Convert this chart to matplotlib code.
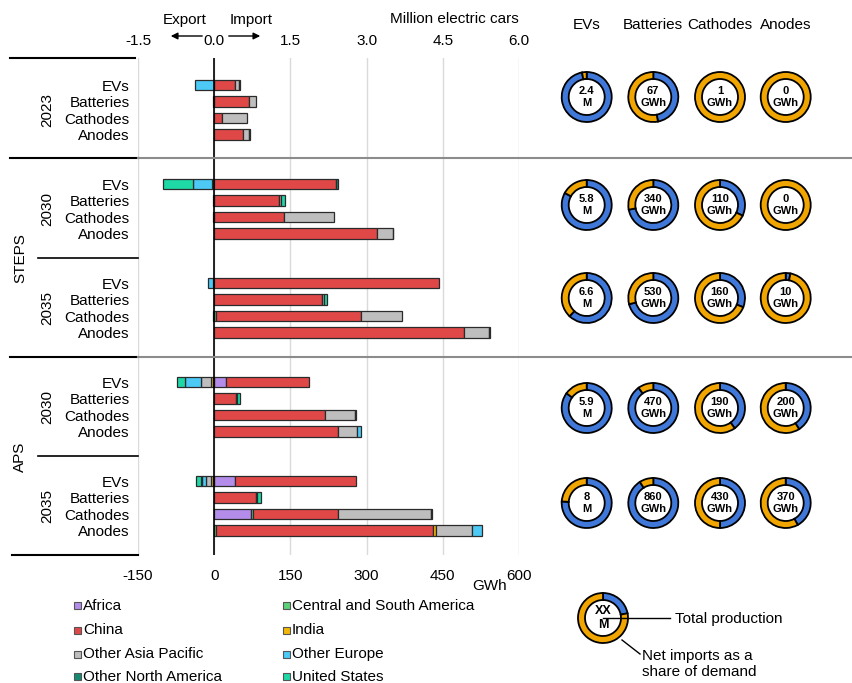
import numpy as np
import matplotlib.pyplot as plt
from matplotlib.lines import Line2D
from matplotlib.patches import Rectangle, FancyArrowPatch
from matplotlib.transforms import blended_transform_factory

plt.rcParams['font.family'] = ['Liberation Sans', 'DejaVu Sans']

W, H = 853, 683
FS = 11

items = ["EVs", "Batteries", "Cathodes", "Anodes"]
years = ["2023", "2030", "2035", "2030", "2035"]
scenarios = ["STEPS", "APS"]

# rows: 2023, STEPS 2030, STEPS 2035, APS 2030, APS 2035 (EVs, Batteries, Cathodes, Anodes)
# EV rows in million cars, other rows in GWh
regions = ["Africa", "Central and South America", "China", "India",
           "Other Asia Pacific", "Other Europe", "Other North America", "United States"]
africa = [0, 0, 0, 0,  0, 0, 0, 0,  0, 0, 0, 0,  0.24, 0, 0, 0,  0.40, 0, 72, 0]
csa = [0, 0, 0, 0,  -0.04, 0, 0, 0,  -0.03, 0, 3, 0,  -0.03, 0, 0, 0,  -0.03, 0, 5, 3]
china = [0.41, 69, 16, 57,  2.39, 127, 138, 320,  4.42, 213, 286, 492,  1.62, 42, 218, 244,  2.39, 82, 166, 427]
india = [0, 0, 0, 0,  0, 0, 0, 0,  0, 0, 0, 0,  -0.03, 0, 0, 0,  -0.03, 0, 0, 7]
other_ap = [0.08, 13, 49, 12,  0, 4, 97, 31,  0, 3, 80, 48,  -0.19, 0, 59, 38,  -0.10, 0, 183, 70]
other_eu = [-0.38, 0, 0, 0,  -0.38, -2, 0, 0,  -0.09, 0, 0, 0,  -0.33, 0, 0, 6,  -0.08, 0, 0, 21]
other_na = [0.02, -2, 0, 2,  0.05, 1, -2, 1,  0, 1, -2, 2,  0, 3, 3, 0,  -0.02, 3, 2, 0]
usa = [0, 0, 0, 0,  -0.59, 8, 0, 0,  0, 5, 0, 0,  -0.16, 6, 0, 0,  -0.10, 8, 0, 0]
region_vals = [africa, csa, china, india, other_ap, other_eu, other_na, usa]
region_colors = ["#B48DEB", "#5CD17A", "#E04848", "#F2B705",
                 "#BEBEBE", "#4DC9F6", "#148A73", "#1ED8A6"]

# donuts: total production and net imports as share of demand (%)
ev_total = [2.4, 5.8, 6.6, 5.9, 8]
bat_total = [67, 340, 530, 470, 860]
cat_total = [1, 110, 160, 190, 430]
an_total = [0, 0, 10, 200, 370]
ev_share = [97, 83, 62, 85, 76]
bat_share = [47, 72, 71, 90, 91]
cat_share = [0, 32, 31, 40, 50]
an_share = [0, 0, 3, 41, 42]

blue = "#3F78D8"
orange = "#F0A500"

fig = plt.figure(figsize=(W / 100, H / 100), dpi=100)
ax = fig.add_axes([138 / W, 1 - 555 / H, (519 - 138) / W, (555 - 58) / H])

ypos = np.array([6 * g + r for g in range(5) for r in range(4)], dtype=float)
scale = np.array([100 if r == 0 else 1 for g in range(5) for r in range(4)], dtype=float)

pos_left = np.zeros(len(ypos))
neg_left = np.zeros(len(ypos))
for vals, col in zip(region_vals, region_colors):
    v = np.array(vals, dtype=float) * scale
    left = np.where(v >= 0, pos_left, neg_left)
    m = v != 0
    ax.barh(ypos[m], v[m], left=left[m], height=0.62, color=col,
            edgecolor="#2b2b2b", linewidth=0.9, zorder=2)
    pos_left += np.where(v > 0, v, 0)
    neg_left += np.where(v < 0, v, 0)

ax.set_xlim(-150, 600)
ax.set_ylim(28.48, -1.64)
ax.axvline(0, color="black", lw=1.2, zorder=3)
xt = [-150, 0, 150, 300, 450, 600]
ax.set_xticks(xt, [str(t) for t in xt])
ax.grid(axis="x", color="#DADADA", lw=1)
ax.set_axisbelow(True)
ax.tick_params(axis="x", length=0, pad=10, labelsize=FS)
ax.set_yticks(ypos, items * 5)
ax.tick_params(axis="y", length=0, pad=6, labelsize=FS)
for s in ax.spines.values():
    s.set_visible(False)

sec = ax.secondary_xaxis("top", functions=(lambda x: x / 100, lambda x: x * 100))
sec.set_xticks([-1.5, 0, 1.5, 3, 4.5, 6], ["-1.5", "0.0", "1.5", "3.0", "4.5", "6.0"])
sec.tick_params(length=0, pad=7, labelsize=FS)
sec.spines["top"].set_visible(False)

# separators
tr = blended_transform_factory(fig.transFigure, ax.transData)


def hline(x0, x1, y, color="black", lw=1.5):
    fig.add_artist(Line2D([x0 / W, x1 / W], [y, y], transform=tr, color=color, lw=lw))


hline(10, 135, -1.64)
hline(10, 138, 4.4)
hline(138, 853, 4.4, color="#8C8C8C")
hline(38, 138, 10.5, lw=1.2)
hline(10, 138, 16.5)
hline(138, 853, 16.5, color="#8C8C8C")
hline(38, 138, 22.5, lw=1.2)
hline(12, 138, 28.48)

for g, yr in enumerate(years):
    fig.text(47 / W, 6 * g + 1.5, yr, rotation=90, ha="center", va="center",
             fontsize=FS, transform=tr)
for i, sc in enumerate(scenarios):
    fig.text(20 / W, 10.5 + 12 * i, sc, rotation=90, ha="center", va="center",
             fontsize=FS, transform=tr)

# header texts
fig.text(185 / W, 1 - 20 / H, "Export", ha="center", va="center", fontsize=FS)
fig.text(251 / W, 1 - 20 / H, "Import", ha="center", va="center", fontsize=FS)
fig.text(454 / W, 1 - 19 / H, "Million electric cars", ha="center", va="center", fontsize=FS)
fig.text(490 / W, 1 - 586 / H, "GWh", ha="center", va="center", fontsize=FS)
for (x0, x1) in [(205, 168), (226, 263)]:
    fig.add_artist(FancyArrowPatch(
        (x0 / W, 1 - 36 / H), (x1 / W, 1 - 36 / H), transform=fig.transFigure,
        arrowstyle="-|>", mutation_scale=10, color="black", lw=1))

col_x = [586.7, 653.3, 720, 785.7]
row_y = [97, 205, 298, 408, 503]
for x, name in zip(col_x, items):
    fig.text(x / W, 1 - 25 / H, name, ha="center", va="center", fontsize=FS)


def donut(cx, cy, share, label, r=25, fs=8):
    pad = 3
    dax = fig.add_axes([(cx - r - pad) / W, 1 - (cy + r + pad) / H,
                        (2 * r + 2 * pad) / W, (2 * r + 2 * pad) / H])
    dax.pie([share, 100 - share], colors=[blue, orange], startangle=90,
            counterclock=False, radius=1,
            wedgeprops=dict(width=0.28, edgecolor="black", linewidth=1.3))
    lim = (r + pad) / r
    dax.set_xlim(-lim, lim)
    dax.set_ylim(-lim, lim)
    dax.text(0, 0, label, ha="center", va="center", fontsize=fs,
             fontweight="bold", linespacing=1.15)
    dax.axis("off")
    return dax


totals = [ev_total, bat_total, cat_total, an_total]
shares = [ev_share, bat_share, cat_share, an_share]
units = ["M", "GWh", "GWh", "GWh"]
for c in range(4):
    for rr in range(5):
        donut(col_x[c], row_y[rr], shares[c][rr], f"{totals[c][rr]:g}\n{units[c]}")

# legend of regions
leg_x = [78, 287]
leg_y = [605.7, 630, 654.3, 676.7]
order = [[0, 2, 4, 6], [1, 3, 5, 7]]
for ci, col in enumerate(order):
    for ri, k in enumerate(col):
        sq = 7
        fig.add_artist(Rectangle(((leg_x[ci] - sq / 2) / W, 1 - (leg_y[ri] + sq / 2) / H),
                                 sq / W, sq / H, transform=fig.transFigure,
                                 facecolor=region_colors[k], edgecolor="#555555", lw=0.8))
        fig.text((leg_x[ci] + 5) / W, 1 - leg_y[ri] / H, regions[k], ha="left",
                 va="center", fontsize=FS)

# legend donut
donut(603, 618, 22, "XX\nM", fs=9)
fig.add_artist(Line2D([603 / W, 670 / W], [1 - 618 / H, 1 - 618 / H],
                      transform=fig.transFigure, color="black", lw=1))
fig.text(675 / W, 1 - 619 / H, "Total production", ha="left", va="center", fontsize=FS)
fig.add_artist(Line2D([622 / W, 640 / W], [1 - 640 / H, 1 - 654 / H],
                      transform=fig.transFigure, color="black", lw=1))
fig.text(642 / W, 1 - 664 / H, "Net imports as a\nshare of demand", ha="left",
         va="center", fontsize=FS, linespacing=1.15)

fig.savefig("out.png", dpi=100)
